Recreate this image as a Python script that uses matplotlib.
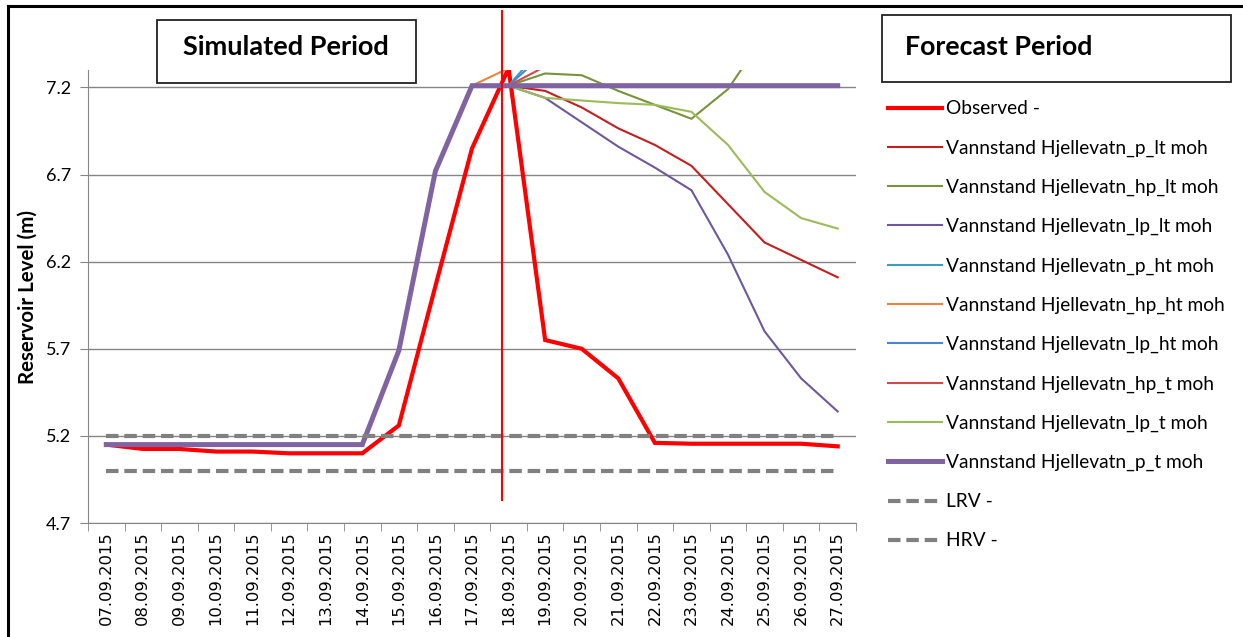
import numpy as np
from matplotlib import pyplot as plt
from matplotlib.lines import Line2D
from matplotlib.patches import Rectangle

nan = np.nan

dates = ['07.09.2015', '08.09.2015', '09.09.2015', '10.09.2015', '11.09.2015',
         '12.09.2015', '13.09.2015', '14.09.2015', '15.09.2015', '16.09.2015',
         '17.09.2015', '18.09.2015', '19.09.2015', '20.09.2015', '21.09.2015',
         '22.09.2015', '23.09.2015', '24.09.2015', '25.09.2015', '26.09.2015',
         '27.09.2015']

observed = [5.15, 5.125, 5.125, 5.11, 5.11, 5.10, 5.10, 5.10, 5.26, 6.06, 6.85,
            7.31, 5.75, 5.70, 5.53, 5.16, 5.155, 5.155, 5.155, 5.155, 5.14]

# forecast runs, all starting from the 17.09 level
pre = [nan] * 10
p_lt = pre + [7.21, 7.21, 7.18, 7.085, 6.965, 6.87, 6.75, 6.53, 6.31, 6.21, 6.11]
hp_lt = pre + [7.21, 7.21, 7.28, 7.27, 7.18, 7.10, 7.02, 7.19, 7.50, nan, nan]
lp_lt = pre + [7.21, 7.21, 7.14, 7.00, 6.86, 6.74, 6.61, 6.24, 5.80, 5.53, 5.34]
p_ht = pre + [7.21, 7.21, 7.45, nan, nan, nan, nan, nan, nan, nan, nan]
hp_ht = pre + [7.21, 7.31, 7.60, nan, nan, nan, nan, nan, nan, nan, nan]
lp_ht = pre + [7.21, 7.21, 7.40, nan, nan, nan, nan, nan, nan, nan, nan]
hp_t = pre + [7.21, 7.21, 7.32, 7.50, nan, nan, nan, nan, nan, nan, nan]
lp_t = pre + [7.21, 7.21, 7.14, 7.125, 7.11, 7.10, 7.06, 6.87, 6.60, 6.45, 6.39]
p_t = [5.15, 5.15, 5.15, 5.15, 5.15, 5.15, 5.15, 5.15, 5.69, 6.72, 7.21,
       7.21, 7.21, 7.21, 7.21, 7.21, 7.21, 7.21, 7.21, 7.21, 7.21]

lrv = 5.2
hrv = 5.0
forecast_start = 10.82   # position of the forecast marker between 17.09 and 18.09

series = [
    ("Observed -", observed, "#FF0000", 3.0),
    ("Vannstand Hjellevatn_p_lt moh", p_lt, "#C41E1E", 1.5),
    ("Vannstand Hjellevatn_hp_lt moh", hp_lt, "#77933C", 1.5),
    ("Vannstand Hjellevatn_lp_lt moh", lp_lt, "#6E589A", 1.5),
    ("Vannstand Hjellevatn_p_ht moh", p_ht, "#3E9DBF", 1.5),
    ("Vannstand Hjellevatn_hp_ht moh", hp_ht, "#E9853F", 1.5),
    ("Vannstand Hjellevatn_lp_ht moh", lp_ht, "#4A86CF", 1.5),
    ("Vannstand Hjellevatn_hp_t moh", hp_t, "#D04A47", 1.5),
    ("Vannstand Hjellevatn_lp_t moh", lp_t, "#9BBB59", 1.5),
    ("Vannstand Hjellevatn_p_t moh", p_t, "#8064A2", 3.6),
]

fig = plt.figure(figsize=(12.43, 6.37), dpi=100)
ax = fig.add_axes([88/1243, 1 - 523/637, 768/1243, 453/637])

x = np.arange(len(dates))
for label, vals, col, lw in series:
    ax.plot(x, vals, color=col, lw=lw, label=label, solid_joinstyle='miter')

ax.plot(x, [lrv] * len(x), color="#808080", lw=3, ls=(0, (3, 1.4)), label="LRV -")
ax.plot(x, [hrv] * len(x), color="#808080", lw=3, ls=(0, (3, 1.4)), label="HRV -")

ax.plot([forecast_start, forecast_start], [4.83, 7.64], color="#FF0000", lw=1.5, clip_on=False, zorder=10)

ax.set_xlim(-0.5, len(dates) - 0.5)
ax.set_ylim(4.7, 7.3)
ax.set_yticks([4.7, 5.2, 5.7, 6.2, 6.7, 7.2])
ax.set_yticklabels(["4.7", "5.2", "5.7", "6.2", "6.7", "7.2"], fontfamily="Lato", fontsize=13)
ax.set_xticks(x)
ax.set_xticklabels(dates, rotation=90, fontfamily="DejaVu Sans", fontsize=11.8)
ax.set_xticks(np.arange(-0.5, len(dates)), minor=True)
ax.tick_params(axis='x', which='major', length=0, pad=6)
ax.tick_params(axis='x', which='minor', length=6, color="#868686", direction='out')
ax.tick_params(axis='y', length=6, color="#868686", direction='out', pad=6)
ax.grid(axis='y', color="#868686", lw=1)
ax.set_axisbelow(True)
for side in ['top', 'right']:
    ax.spines[side].set_visible(False)
for side in ['left', 'bottom']:
    ax.spines[side].set_color("#868686")

ax.set_ylabel("Reservoir Level (m)", fontfamily="Lato", fontweight="bold", fontsize=14.8, labelpad=6)

ax.legend(loc='upper left', bbox_to_anchor=(888/1243, 1 - 100.5/637), bbox_transform=fig.transFigure,
          frameon=False, prop={'family': 'Lato', 'size': 13.8}, handlelength=2.8,
          handletextpad=0.22, labelspacing=1.15, borderpad=0, borderaxespad=0)

# title boxes above the two periods
fig.add_artist(Rectangle((157/1243, 1 - 83/637), 259/1243, 63/637, transform=fig.transFigure,
                         fill=False, ec="#222222", lw=1.3))
fig.text(286/1243, 1 - 47/637, "Simulated Period", ha='center', va='center',
         fontfamily="Lato", fontweight="bold", fontsize=19.5)
fig.add_artist(Rectangle((882/1243, 1 - 82/637), 349/1243, 67/637, transform=fig.transFigure,
                         fill=False, ec="#222222", lw=1.3))
fig.text(905/1243, 1 - 47/637, "Forecast Period", ha='left', va='center',
         fontfamily="Lato", fontweight="bold", fontsize=19.3)

# outer frame
fig.add_artist(Line2D([8/1243, 1], [1 - 6/637, 1 - 6/637], transform=fig.transFigure, color="black", lw=2.2))
fig.add_artist(Line2D([8/1243, 8/1243], [0, 1 - 6/637], transform=fig.transFigure, color="black", lw=2.2))

fig.savefig("out.png", dpi=100)
